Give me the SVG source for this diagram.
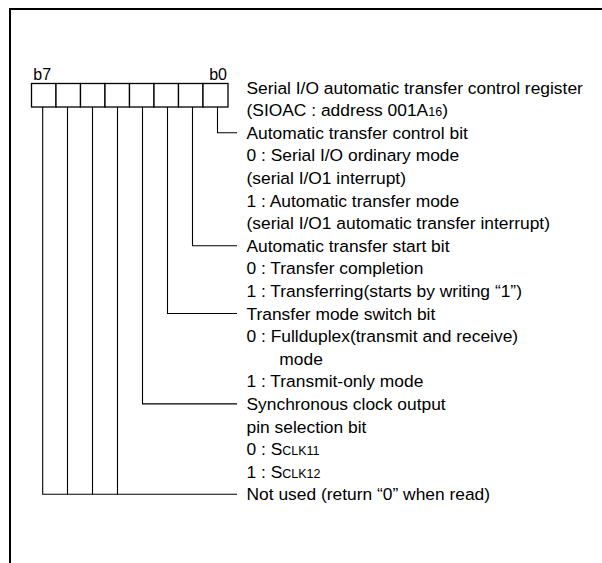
<svg xmlns="http://www.w3.org/2000/svg" width="602" height="563" viewBox="0 0 602 563">
<style>
text{font-family:"Liberation Sans",Arial,sans-serif;font-size:17.4px;fill:#000}
.bl{font-size:16px}
.sub{font-size:12.5px}
.cell{fill:#fff;stroke:#000;stroke-width:1.3}
.conn{fill:none;stroke:#000;stroke-width:1.1}
.frame{fill:none;stroke:#000;stroke-width:2}
</style>
<rect width="602" height="563" fill="#fff"/>
<path class="frame" d="M10,563 V9 H602"/>
<g id="register">
<rect class="cell" x="31.5" y="83.5" width="24.5" height="23.5"/>
<rect class="cell" x="56" y="83.5" width="24.5" height="23.5"/>
<rect class="cell" x="80.5" y="83.5" width="24.5" height="23.5"/>
<rect class="cell" x="105" y="83.5" width="24.5" height="23.5"/>
<rect class="cell" x="129.5" y="83.5" width="24.5" height="23.5"/>
<rect class="cell" x="154" y="83.5" width="24.5" height="23.5"/>
<rect class="cell" x="178.5" y="83.5" width="24.5" height="23.5"/>
<rect class="cell" x="203" y="83.5" width="25" height="23.5"/>
<text class="bl" x="33.3" y="80">b7</text>
<text class="bl" x="227" y="80" text-anchor="end">b0</text>
</g>
<g id="title">
<text x="246.5" y="93.5">Serial I/O automatic transfer control register</text>
<text x="246.5" y="116.1">(SIOAC : address 001A<tspan class="sub">16</tspan>)</text>
</g>
<g id="connectors">
<path class="conn" d="M217.5,107 V132.7 H237"/>
<path class="conn" d="M192.5,107 V245.7 H237"/>
<path class="conn" d="M167.5,107 V313.5 H237"/>
<path class="conn" d="M142.5,107 V403.9 H237"/>
<path class="conn" d="M42.7,107 V494.3 H237"/>
<path class="conn" d="M67.5,107 V494.3"/>
<path class="conn" d="M92.5,107 V494.3"/>
<path class="conn" d="M117.5,107 V494.3"/>
</g>
<g id="bit0">
<text x="246.5" y="138.7">Automatic transfer control bit</text>
<text x="246.5" y="161.3">0 : Serial I/O ordinary mode</text>
<text x="246.5" y="183.9">(serial I/O1 interrupt)</text>
<text x="246.5" y="206.5">1 : Automatic transfer mode</text>
<text x="246.5" y="229.1">(serial I/O1 automatic transfer interrupt)</text>
</g>
<g id="bit1">
<text x="246.5" y="251.7">Automatic transfer start bit</text>
<text x="246.5" y="274.3">0 : Transfer completion</text>
<text x="246.5" y="296.9">1 : Transferring(starts by writing “1”)</text>
</g>
<g id="bit2">
<text x="246.5" y="319.5">Transfer mode switch bit</text>
<text x="246.5" y="342.1">0 : Fullduplex(transmit and receive)</text>
<text x="279.3" y="364.7">mode</text>
<text x="246.5" y="387.3">1 : Transmit-only mode</text>
</g>
<g id="bit3">
<text x="246.5" y="409.9">Synchronous clock output</text>
<text x="246.5" y="432.5">pin selection bit</text>
<text x="246.5" y="455.1">0 : S<tspan class="sub">CLK11</tspan></text>
<text x="246.5" y="477.7">1 : S<tspan class="sub">CLK12</tspan></text>
</g>
<g id="bits4to7">
<text x="246.5" y="500.3">Not used (return “0” when read)</text>
</g>
</svg>
